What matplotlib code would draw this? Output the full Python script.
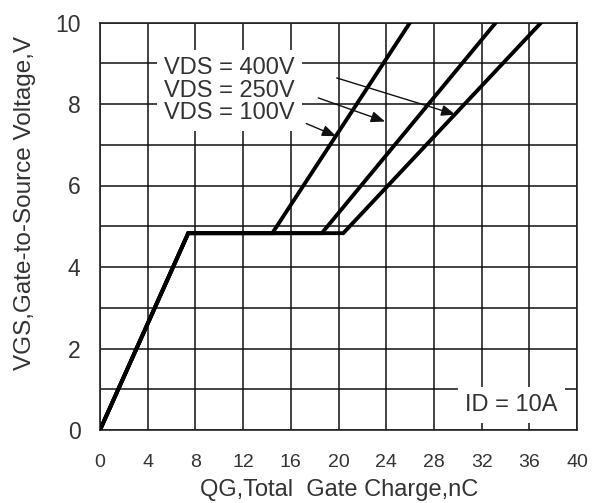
import numpy as np
import matplotlib
matplotlib.use("Agg")
import matplotlib.pyplot as plt

plt.rcParams['font.family'] = ['Liberation Sans', 'DejaVu Sans']

# ---- data ----
vgs = [0.0, 4.83, 4.83, 10.0]              # gate-source voltage breakpoints (V)
qg_100v = [0.0, 7.4, 14.45, 26.0]          # total gate charge (nC), VDS = 100V
qg_250v = [0.0, 7.4, 18.6, 33.2]           # VDS = 250V
qg_400v = [0.0, 7.4, 20.4, 37.0]           # VDS = 400V

x_ticks = [0, 4, 8, 12, 16, 20, 24, 28, 32, 36, 40]
y_ticks = [0, 2, 4, 6, 8, 10]

legend_labels = ["VDS = 400V", "VDS = 250V", "VDS = 100V"]
# arrow (text end -> curve end) for each label, in data units
arrow_from = [(19.85, 8.64), (18.3, 8.15), (17.3, 7.52)]
arrow_to = [(29.8, 7.74), (23.9, 7.57), (19.8, 7.21)]

text_color = "#333333"
line_color = "#000000"
grid_color = "#111111"

fig = plt.figure(figsize=(6.01, 5.03), dpi=100)
W, H = 601, 503
ax = fig.add_axes([100 / W, 1 - 430 / H, 477 / W, (430 - 22.5) / H])

for q in (qg_100v, qg_250v, qg_400v):
    ax.plot(q, vgs, color=line_color, lw=2.8, solid_joinstyle='miter', zorder=4)

ax.set_xlim(0, 40)
ax.set_ylim(0, 10)
ax.set_xticks(x_ticks)
ax.set_yticks(y_ticks)
ax.set_yticks(np.arange(1, 10, 2), minor=True)
ax.grid(True, which='both', color=grid_color, lw=1.1)
ax.set_axisbelow(True)
ax.tick_params(axis='both', which='both', length=0)
ax.tick_params(axis='x', labelsize=14, pad=17, colors=text_color)
ax.tick_params(axis='y', labelsize=16.5, pad=14, colors=text_color)
for s in ax.spines.values():
    s.set_color("#222222")
    s.set_linewidth(1.2)

# legend text block with white box
ax.text(5.35, 8.33, "\n".join(legend_labels), fontsize=17, color=text_color,
        ha='left', va='center', linespacing=1.05, zorder=3,
        bbox=dict(boxstyle='square,pad=0.3', fc='white', ec='none'))

for (x0, y0), (x1, y1) in zip(arrow_from, arrow_to):
    ax.annotate("", xy=(x1, y1), xytext=(x0, y0), zorder=5,
                arrowprops=dict(arrowstyle='-|>,head_length=0.7,head_width=0.28',
                                color='#111111', lw=1.0, mutation_scale=12,
                                shrinkA=0, shrinkB=0))

ax.text(0.96, 0.035, "ID = 10A", transform=ax.transAxes, fontsize=17,
        color=text_color, ha='right', va='bottom', zorder=3,
        bbox=dict(boxstyle='square,pad=0.3', fc='white', ec='none'))

fig.text(339 / W, 1 - 490 / H, "QG,Total  Gate Charge,nC", fontsize=17,
         color=text_color, ha='center', va='center')
fig.text(25 / W, 1 - 203 / H, "VGS,Gate-to-Source Voltage,V", fontsize=17.5,
         color=text_color, ha='center', va='center', rotation=90)

fig.savefig("out.png", dpi=100, facecolor='white')
